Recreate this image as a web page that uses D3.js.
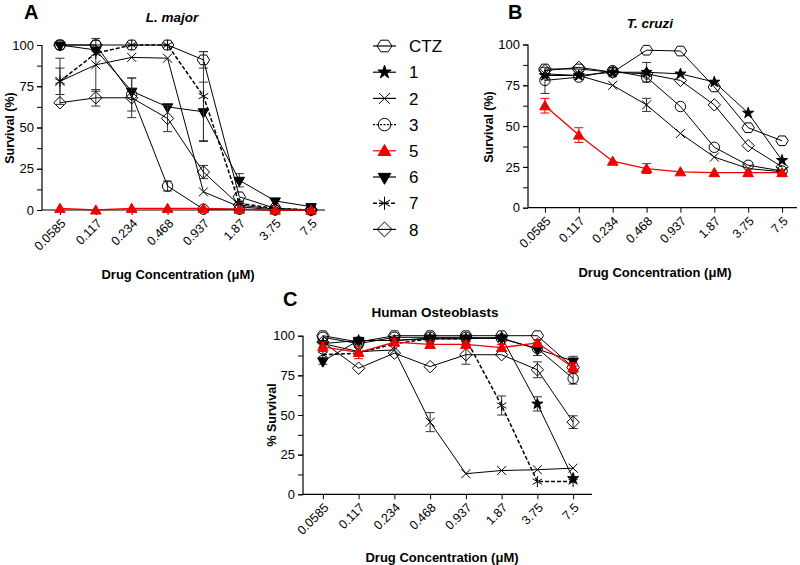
<!DOCTYPE html>
<html><head><meta charset="utf-8">
<script src="https://cdn.jsdelivr.net/npm/d3@7/dist/d3.min.js"></script>
<style>
body{margin:0;background:#fff}
text{font-family:"Liberation Sans",Arial,sans-serif;fill:#000}
</style>
</head><body>
<svg id="chart" width="800" height="565"></svg>
<script>
// ---------- DATA ----------
const concentrations = ["0.0585","0.117","0.234","0.468","0.937","1.87","3.75","7.5"];
const seriesNames = ["CTZ","1","2","3","5","6","7","8"];
const yTickValues = [0,25,50,75,100];
const yMinorTickValues = [0,12.5,25,37.5,50,62.5,75,87.5,100];

// Panel A: L. major (mean survival %, error)
const lmajorCTZ = [100,100,100,100,91,8,1,0];
const lmajorCTZErr = [0,0,0,0,5,0,0,0];
const lmajor2 = [78,88,92.5,92,11,2,0,0];
const lmajor2Err = [14,16,0,0,0,0,0,0];
const lmajor3 = [100,100,70,14.5,0.5,0.5,0,0];
const lmajor3Err = [0,0,10,3,0,0,0,0];
const lmajor5 = [1,0,1,1,1,0.5,0,0];
const lmajor5Err = [0,0,0,0,0,0,0,0];
const lmajor6 = [100,97,72,62.5,59.5,18,5.5,2];
const lmajor6Err = [0,0,0,0,18,4,0,0];
const lmajor7 = [78,95,100,100,69,4,1,0];
const lmajor7Err = [8,0,0,0,27,0,0,0];
const lmajor8 = [65,68,68,55.5,23,3,0.5,0];
const lmajor8Err = [0,5,12,8,4,0,0,0];

// Panel B: T. cruzi
const tcruziCTZ = [85,85,83,96.5,96,74,49,41];
const tcruziCTZErr = [0,0,0,0,0,0,0,0];
const tcruzi1 = [81,81,83,83,82,77,58,29];
const tcruzi1Err = [0,0,0,6,0,0,0,0];
const tcruzi2 = [82,81,75,63,45.5,31,24,22];
const tcruzi2Err = [0,0,0,4,0,0,0,0];
const tcruzi3 = [78,80,84,80,62,37,26,22.5];
const tcruzi3Err = [8,0,0,0,0,0,0,0];
const tcruzi5 = [62.5,44.5,28.5,24,22,21.5,21.5,21.5];
const tcruzi5Err = [4.5,4.5,0,3,0,0,0,0];
const tcruzi8 = [84,86,83,82,78,63,38,25];
const tcruzi8Err = [0,0,0,0,0,0,0,0];

// Panel C: Human Osteoblasts
const osteoCTZ = [100,96,100,100,100,100,100,80];
const osteoCTZErr = [0,0,0,0,0,0,0,0];
const osteo1 = [95,97,97,98,98,99,57,10];
const osteo1Err = [0,0,0,0,0,0,4.5,0];
const osteo2 = [95,90,91,45.5,13,15,15.5,16.5];
const osteo2Err = [0,0,0,6,0,0,0,0];
const osteo3 = [99,95,99,99,99,98,92,73];
const osteo3Err = [0,0,0,0,0,0,0,3.5];
const osteo5 = [93,89.5,96,94.5,94.5,92.5,95.5,80];
const osteo5Err = [3,4,2,2,2,2,2,3];
const osteo6 = [84,97,97,98.5,98.5,98.5,91.5,84];
const osteo6Err = [2,0,0,0,0,0,4,3];
const osteo7 = [88,89,95,98,98,56,8,8];
const osteo7Err = [0,0,0,0,0,6,0,0];
const osteo8 = [96,79.5,89,80.5,88,88,78.5,45.5];
const osteo8Err = [0,0,0,0,6,0,5,4];

// ---------- STYLES ----------
const seriesStyle = {
  "CTZ": {shape:"hexagon", color:"#000", dash:null},
  "1":   {shape:"star", color:"#000", dash:null},
  "2":   {shape:"cross", color:"#000", dash:null},
  "3":   {shape:"circle", color:"#000", dash:null, legendDash:"2,1.5"},
  "5":   {shape:"triangleUp", color:"#f00000", dash:null},
  "6":   {shape:"triangleDown", color:"#000", dash:null},
  "7":   {shape:"asterisk", color:"#000", dash:"4,2"},
  "8":   {shape:"diamond", color:"#000", dash:null}
};

const panels = [
  {letter:"A", title:"L. major", italic:true, yLabel:"Survival (%)",
   left:42, right:329, axisEnd:325, top:45, bottom:210,
   letterPos:[24,19], titlePos:[172,22], yLabelPos:[14,128], xLabelPos:[178,279],
   series:[["CTZ",lmajorCTZ,lmajorCTZErr],["2",lmajor2,lmajor2Err],["3",lmajor3,lmajor3Err],
           ["6",lmajor6,lmajor6Err],["7",lmajor7,lmajor7Err],["8",lmajor8,lmajor8Err],["5",lmajor5,lmajor5Err]]},
  {letter:"B", title:"T. cruzi", italic:true, yLabel:"Survival (%)",
   left:528, right:799, axisEnd:797, top:44.5, bottom:207.7,
   letterPos:[508,19], titlePos:[650,28], yLabelPos:[493,127], xLabelPos:[655,277],
   series:[["CTZ",tcruziCTZ,tcruziCTZErr],["1",tcruzi1,tcruzi1Err],["2",tcruzi2,tcruzi2Err],
           ["3",tcruzi3,tcruzi3Err],["8",tcruzi8,tcruzi8Err],["5",tcruzi5,tcruzi5Err]]},
  {letter:"C", title:"Human Osteoblasts", italic:false, yLabel:"% Survival",
   left:305, right:591, axisStart:303, axisEnd:592, top:335.7, bottom:494.3,
   letterPos:[283,306], titlePos:[435,317], yLabelPos:[276,415], xLabelPos:[442,562],
   series:[["CTZ",osteoCTZ,osteoCTZErr],["1",osteo1,osteo1Err],["2",osteo2,osteo2Err],
           ["3",osteo3,osteo3Err],["6",osteo6,osteo6Err],["7",osteo7,osteo7Err],
           ["8",osteo8,osteo8Err],["5",osteo5,osteo5Err]]}
];

// ---------- SYMBOLS ----------
function symbolPath(shape, s){
  s = s || 1;
  switch(shape){
    case "hexagon": {
      const r=6.2*s, pts=[];
      for(let k=0;k<6;k++){const a=k*Math.PI/3; pts.push([r*Math.cos(a), r*Math.sin(a)*0.9]);}
      return "M"+pts.map(p=>p.join(",")).join("L")+"Z";
    }
    case "star": return d3.symbol(d3.symbolStar, 38*s*s)();
    case "cross": {const r=4.5*s; return `M${-r},${-r}L${r},${r}M${-r},${r}L${r},${-r}`;}
    case "circle": {const r=5.2*s; return `M${r},0A${r},${r} 0 1,1 ${-r},0A${r},${r} 0 1,1 ${r},0Z`;}
    case "triangleUp": return d3.symbol(d3.symbolTriangle, 48*s*s)();
    case "triangleDown": return d3.symbol(d3.symbolTriangle, 48*s*s)();
    case "asterisk": {
      const r=5.5*s; let d="";
      for(let k=0;k<3;k++){const a=Math.PI/2+k*Math.PI/3; d+=`M${r*Math.cos(a)},${r*Math.sin(a)}L${-r*Math.cos(a)},${-r*Math.sin(a)}`;}
      return d;
    }
    case "diamond": {const r=6.2*s; return `M0,${-r}L${r},0L0,${r}L${-r},0Z`;}
  }
}
function drawSymbol(g, shape, color, cx, cy, s){
  const filled = (shape==="star"||shape==="triangleUp"||shape==="triangleDown");
  return g.append("path").attr("d", symbolPath(shape, s))
    .attr("transform", `translate(${cx},${cy})` + (shape==="triangleDown"?" rotate(180)":"") + (shape==="triangleUp"?" translate(0,1)":""))
    .attr("stroke", color).attr("stroke-width", 1)
    .attr("fill", filled ? color : "none");
}

const svg = d3.select("#chart");

panels.forEach(P=>{
  const g = svg.append("g");
  const x = d3.scalePoint().domain(concentrations).range([P.left, P.right]).padding(0.5);
  const y = d3.scaleLinear().domain([0,100]).range([P.bottom, P.top]);
  const axisX0 = P.axisStart !== undefined ? P.axisStart : P.left;

  g.append("text").attr("x",P.letterPos[0]).attr("y",P.letterPos[1]).attr("font-size",20).attr("font-weight","bold").text(P.letter);
  g.append("text").attr("x",P.titlePos[0]).attr("y",P.titlePos[1]).attr("text-anchor","middle")
    .attr("font-size",13.5).attr("font-weight","bold").attr("font-style",P.italic?"italic":"normal").text(P.title);

  const ya = g.append("g").attr("transform",`translate(${axisX0},0)`)
    .call(d3.axisLeft(y).tickValues(yTickValues).tickSize(5).tickPadding(3).tickSizeOuter(0));
  ya.select(".domain").remove();
  ya.selectAll("text").attr("font-size",13).attr("font-family","Liberation Sans, Arial, sans-serif").attr("fill","#000");
  const ym = g.append("g").attr("transform",`translate(${axisX0},0)`)
    .call(d3.axisLeft(y).tickValues(yMinorTickValues).tickFormat("").tickSize(5).tickSizeOuter(0));
  ym.select(".domain").remove();
  g.selectAll(".tick line").attr("stroke","#000");
  g.append("line").attr("x1",axisX0).attr("x2",axisX0).attr("y1",y(100)).attr("y2",y(0)).attr("stroke","#000").attr("stroke-width",1.2);

  const xa = g.append("g").attr("transform",`translate(0,${P.bottom})`)
    .call(d3.axisBottom(x).tickSize(5).tickSizeOuter(0));
  xa.select(".domain").remove();
  xa.selectAll("line").attr("stroke","#000");
  xa.selectAll("text").attr("font-size",12.5).attr("font-family","Liberation Sans, Arial, sans-serif").attr("fill","#000")
    .attr("text-anchor","end").attr("x",0).attr("y",0).attr("dy","0.35em")
    .attr("transform","translate(3,11) rotate(-45)");
  g.append("line").attr("x1",axisX0).attr("x2",P.axisEnd).attr("y1",P.bottom).attr("y2",P.bottom).attr("stroke","#000").attr("stroke-width",1.2);

  g.append("text").attr("transform",`translate(${P.yLabelPos[0]},${P.yLabelPos[1]}) rotate(-90)`)
    .attr("text-anchor","middle").attr("font-size",12.5).attr("font-weight","bold").text(P.yLabel);
  g.append("text").attr("x",P.xLabelPos[0]).attr("y",P.xLabelPos[1]).attr("text-anchor","middle")
    .attr("font-size",13).attr("font-weight","bold").text("Drug Concentration (\u03bcM)");

  const line = d3.line().x((d,i)=>x(concentrations[i])).y(d=>y(d));
  P.series.forEach(([name, vals, errs])=>{
    const st = seriesStyle[name];
    const sg = g.append("g");
    vals.forEach((v,i)=>{
      const e = errs[i]; if(!e) return;
      const cx = x(concentrations[i]);
      const lo = y(Math.max(0,v-e)), hi = y(Math.min(104,v+e));
      const col = st.color === "#000" ? "#333" : st.color;
      sg.append("line").attr("x1",cx).attr("x2",cx).attr("y1",lo).attr("y2",hi).attr("stroke",col).attr("stroke-width",1);
      [v-e, v+e].forEach(b=>{ if(b<0||b>104) return;
        sg.append("line").attr("x1",cx-4.5).attr("x2",cx+4.5).attr("y1",y(b)).attr("y2",y(b)).attr("stroke",col).attr("stroke-width",1);});
    });
    sg.append("path").attr("d", line(vals)).attr("fill","none").attr("stroke",st.color)
      .attr("stroke-width", name==="5"?1.3:(name==="7"?1.5:1)).attr("stroke-dasharray", st.dash);
    vals.forEach((v,i)=>drawSymbol(sg, st.shape, st.color, x(concentrations[i]), y(v), 1));
  });
});

// legend
const lg = svg.append("g");
seriesNames.forEach((name,i)=>{
  const st = seriesStyle[name];
  const cy = 46 + i*26.2;
  lg.append("line").attr("x1",373).attr("x2",396).attr("y1",cy).attr("y2",cy)
    .attr("stroke",st.color).attr("stroke-width",name==="7"?1.5:1.2).attr("stroke-dasharray", st.legendDash || st.dash);
  drawSymbol(lg, st.shape, st.color, 384.5, cy, 1.2);
  lg.append("text").attr("x",409).attr("y",cy).attr("dy","0.36em").attr("font-size",17).text(name);
});
</script>
</body></html>
